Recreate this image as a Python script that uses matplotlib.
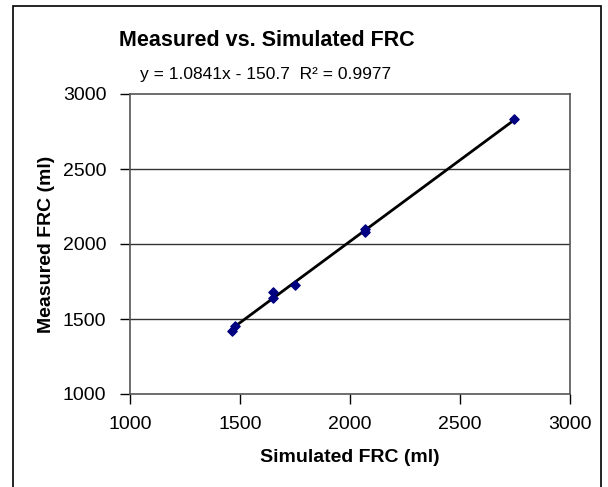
import matplotlib
matplotlib.use("Agg")
import matplotlib.pyplot as plt
from matplotlib.patches import Rectangle
import numpy as np

plt.rcParams['font.family'] = ['Liberation Sans', 'DejaVu Sans']

# data
simulated = [1464, 1477, 1650, 1650, 1750, 2068, 2070, 2745]
measured = [1420, 1455, 1640, 1680, 1728, 2078, 2100, 2833]
x_ticks = [1000, 1500, 2000, 2500, 3000]
y_ticks = [1000, 1500, 2000, 2500, 3000]

# excel style linear trendline
slope, intercept = 1.0841, -150.7
r2 = 0.9977

W, H = 608, 487
fig = plt.figure(figsize=(W / 100, H / 100), dpi=100)
ax = fig.add_axes([130 / W, (H - 394) / H, 440 / W, 300 / H])

ax.set_xlim(1000, 3000)
ax.set_ylim(1000, 3000)
ax.set_xticks(x_ticks)
ax.set_yticks(y_ticks)
ax.tick_params(direction='out', length=7, width=1, labelsize=14, colors='black')
ax.tick_params(axis='x', pad=9)
ax.tick_params(axis='y', pad=10)

for y in y_ticks[1:-1]:
    ax.axhline(y, color='#333333', lw=1, zorder=1)
for s in ax.spines.values():
    s.set_color('#555555')
    s.set_linewidth(1.2)

xs = np.array([min(simulated), max(simulated)])
ax.plot(xs, slope * xs + intercept, color='black', lw=2, zorder=2)
ax.scatter(simulated, measured, marker='D', s=22, color='#000080', zorder=3)

ax.set_xlabel('Simulated FRC (ml)', fontsize=14, fontweight='bold', labelpad=11)
ax.set_ylabel('Measured FRC (ml)', fontsize=14, fontweight='bold', labelpad=6)

fig.text(267 / W, 1 - 40 / H, 'Measured vs. Simulated FRC', ha='center', va='center',
         fontsize=15.5, fontweight='bold')
fig.text(266 / W, 1 - 75 / H,
         'y = %.4fx - %.1f  R\u00b2 = %.4f' % (slope, -intercept, r2),
         ha='center', va='center', fontsize=12.5)

# outer chart frame
fig.patches.append(Rectangle((13 / W, -0.05), (601 - 13) / W, 1.05 - 6 / H,
                             transform=fig.transFigure, fill=False,
                             edgecolor='black', lw=1.2))

fig.savefig('out.png', dpi=100)
